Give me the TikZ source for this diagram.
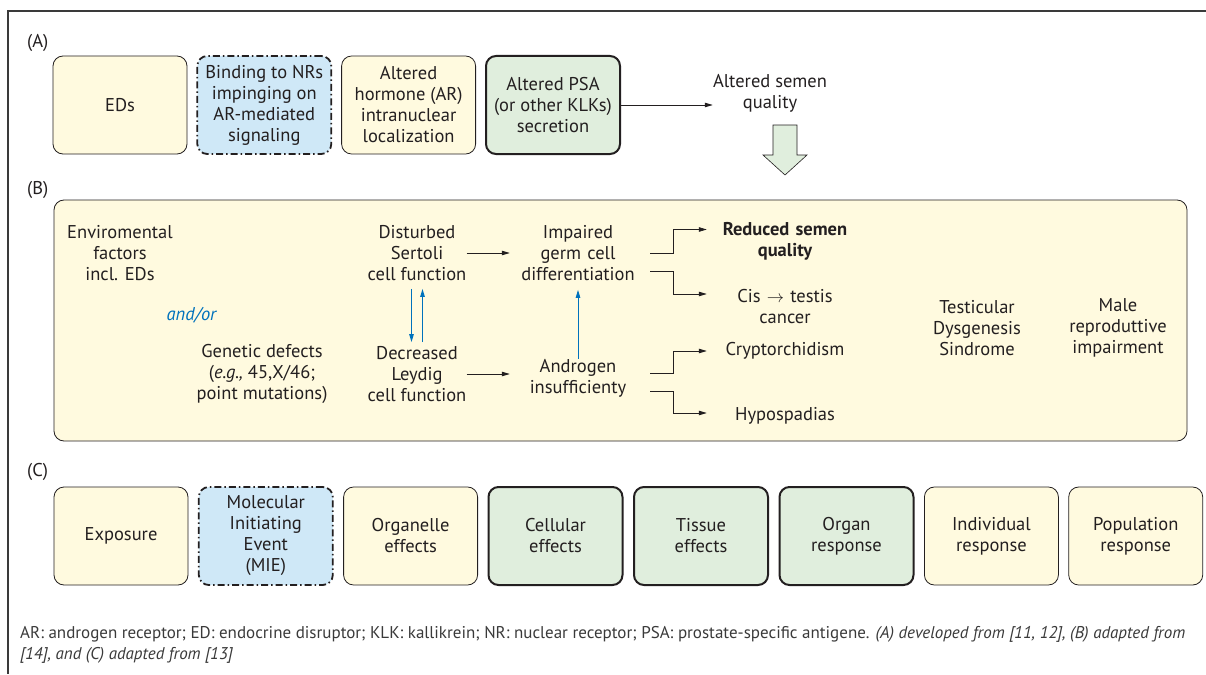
\documentclass[tikz,border=0pt]{standalone}
\usepackage{fontspec}
\setmainfont{PT Sans}
\usepackage{tikz}
\usetikzlibrary{arrows.meta, positioning, calc}

\definecolor{txtgray}{HTML}{231F20}
\definecolor{capgray}{HTML}{3A3A3A}
\definecolor{edyellow}{HTML}{FFFADF}
\definecolor{mieblue}{HTML}{CFE8F7}
\definecolor{keygreen}{HTML}{E0EEDD}
\definecolor{linkblue}{HTML}{0072BC}

\newcommand{\bodyfont}{\fontsize{18.5}{21}\selectfont}

\tikzset{
	txt/.style={align=center, font=\bodyfont, text=txtgray, inner sep=0pt},
	cellbox/.style={txt, draw=txtgray, rounded corners=10pt, minimum width=134pt, minimum height=98pt, line width=0.8pt},
	ybox/.style={cellbox, fill=edyellow},
	gbox/.style={cellbox, fill=keygreen, line width=2pt},
	dbox/.style={cellbox, fill=mieblue, line width=1.8pt, dash pattern=on 7pt off 3pt on 1.5pt off 3pt},
	midc/.style={txt, text width=124pt},
	outc/.style={txt, text width=150pt},
	arr/.style={-{Triangle[length=8pt,width=4.5pt]}, line width=0.8pt, draw=txtgray},
	barr/.style={-{Triangle[length=8pt,width=4.5pt]}, line width=1pt, draw=linkblue},
	lbl/.style={txt, anchor=west},
}

\begin{document}
\begin{tikzpicture}[x=1pt, y=-1pt]
	\useasboundingbox (0,0) rectangle (1206,674);
	
	% Frame
	\draw[line width=1.5pt, draw=capgray] (1206,11) -- (8,11) -- (8,674);
	
	% (A)
	\node[lbl] (labA) at (27,43) {(A)};
	\node[ybox] (eds) at (120,105) {EDs};
	\node[dbox, right=9pt of eds] (bind) {Binding to NRs\\impinging on\\AR-mediated\\signaling};
	\node[ybox, right=9pt of bind] (horm) {Altered\\hormone (AR)\\intranuclear\\localization};
	\node[gbox, right=9pt of horm] (psa) {Altered PSA\\(or other KLKs)\\secretion};
	\node[txt] (semen) at (770,93) {Altered semen\\quality};
	\draw[arr] (psa.east) -- (psa.east -| semen.west);
	\draw[fill=keygreen, draw=txtgray, line width=0.6pt] (773,125) -- (797,125) -- (797,155) -- (807,155) -- (785,175) -- (763,155) -- (773,155) -- cycle;
	
	% (B)
	\node[lbl] (labB) at (27,190) {(B)};
	\node[draw=txtgray, fill=edyellow, rounded corners=10pt, line width=0.8pt, minimum width=1133pt, minimum height=241pt] (panelB) at (620.5,320.5) {};
	\node[txt] (env) at (120,253) {Enviromental\\factors\\incl. EDs};
	\node[txt, text=linkblue] (andor) at (192,315) {\textit{and/or}};
	\node[txt] (gen) at (262,374) {Genetic defects\\(\textit{e.g.,} 45,X/46;\\point mutations)};
	\node[txt] (sert) at (417,253) {Disturbed\\Sertoli\\cell function};
	\node[txt] (leyd) at (417,374) {Decreased\\Leydig\\cell function};
	\node[midc] (imp) at (578,253) {Impaired\\germ cell\\differentiation};
	\node[midc] (andr) at (578,378) {Androgen\\insufficienty};
	\node[outc, font=\bodyfont\bfseries] (red) at (785,241) {Reduced semen\\quality};
	\node[outc] (cis) at (785,307) {Cis $\rightarrow$ testis\\cancer};
	\node[outc] (crypt) at (785,351) {Cryptorchidism};
	\node[outc] (hypo) at (785,416) {Hypospadias};
	\node[txt] (tds) at (977,328) {Testicular\\Dysgenesis\\Sindrome};
	\node[txt] (male) at (1118,328) {Male\\reproduttive\\impairment};
	
	\draw[arr, shorten >=6pt] (sert.east) -- (imp.west);
	\draw[arr, shorten >=6pt] (leyd.east) -- (leyd.east -| andr.west);
	\draw[barr, shorten <=8pt, shorten >=4pt] ([xshift=-5.5pt]sert.south) -- ([xshift=-5.5pt]leyd.north);
	\draw[barr, shorten <=4pt, shorten >=8pt] ([xshift=5.5pt]leyd.north) -- ([xshift=5.5pt]sert.south);
	\draw[barr, shorten >=9pt] (andr.north) -- (imp.south);
	
	\draw[arr] ([xshift=10pt]imp.east) -- ++(23,0) |- ([xshift=-3pt,yshift=11.5pt]red.west);
	\draw[arr] ([xshift=10pt,yshift=-18pt]imp.east) -- ++(23,0) |- ([xshift=-3pt,yshift=13pt]cis.west);
	\draw[arr] ([xshift=10pt,yshift=5pt]andr.east) -- ++(23,0) |- ([xshift=-3pt]crypt.west);
	\draw[arr] ([xshift=10pt,yshift=-13pt]andr.east) -- ++(23,0) |- ([xshift=-3pt,yshift=3pt]hypo.west);
	
	% (C)
	\node[lbl] (labC) at (27,472) {(C)};
	\node[ybox] (expo) at (121,536) {Exposure};
	\node[dbox, right=9.5pt of expo] (mie) {Molecular\\Initiating\\Event\\(MIE)};
	\node[ybox, right=9.5pt of mie] (orga) {Organelle\\effects};
	\node[gbox, right=9.5pt of orga] (cell) {Cellular\\effects};
	\node[gbox, right=9.5pt of cell] (tiss) {Tissue\\effects};
	\node[gbox, right=9.5pt of tiss] (orgn) {Organ\\response};
	\node[ybox, right=9.5pt of orgn] (indiv) {Individual\\response};
	\node[ybox, right=9.5pt of indiv] (popu) {Population\\response};
	
	% Caption
	\node[anchor=north west, align=left, inner sep=0pt, font=\fontsize{17}{21}\selectfont, text=capgray] (cap) at (20,626) {AR: androgen receptor; ED: endocrine disruptor; KLK: kallikrein; NR: nuclear receptor; PSA: prostate-specific antigene. \textit{(A) developed from [11, 12], (B) adapted from}\\\textit{[14], and (C) adapted from [13]}};
\end{tikzpicture}
\end{document}
